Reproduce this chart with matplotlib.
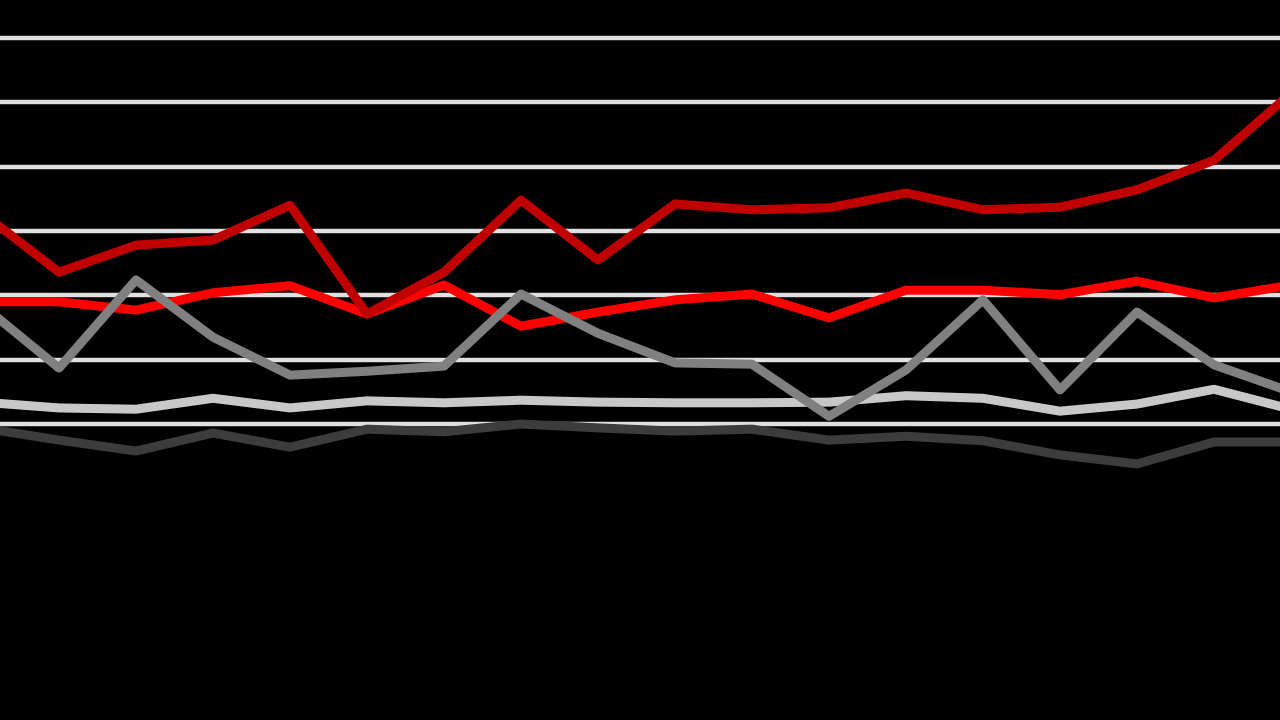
import matplotlib
matplotlib.use("Agg")
import matplotlib.pyplot as plt
import numpy as np

# 18 periods, first and last sit just outside the visible area
periods = np.arange(18)

dark_red = [32.8, 23.6, 27.8, 28.6, 34.0, 17.1, 23.6, 34.8, 25.5, 34.2,
            33.3, 33.6, 35.9, 33.3, 33.7, 36.4, 41.0, 51.4]
red = [19.0, 19.0, 17.7, 20.4, 21.5, 17.1, 21.6, 15.2, 17.4, 19.3,
       20.2, 16.5, 20.8, 20.8, 20.1, 22.2, 19.6, 21.6]
gray = [18.5, 8.7, 22.4, 13.5, 7.6, 8.2, 9.0, 20.2, 14.1, 9.5,
        9.3, 1.2, 8.4, 19.3, 5.3, 17.4, 9.2, 5.0]
light_gray = [3.4, 2.5, 2.3, 4.0, 2.5, 3.6, 3.3, 3.7, 3.4, 3.3,
              3.3, 3.4, 4.4, 4.0, 2.0, 3.1, 5.4, 2.3]
dark_gray = [-0.6, -2.5, -4.2, -1.4, -3.6, -0.8, -1.2, 0.0, -0.6, -1.1,
             -0.8, -2.5, -1.9, -2.6, -4.8, -6.2, -2.8, -2.8]

grid_vals = [0, 10, 20, 30, 40, 50, 60]

fig = plt.figure(figsize=(12.8, 7.2), dpi=100, facecolor="black")
ax = fig.add_axes([0, 0, 1, 1])
ax.set_facecolor("black")

for g in grid_vals:
    ax.axhline(g, color="#e0e0e0", lw=3.2, zorder=1)

lw = 6.5
ax.plot(periods, light_gray, color="#c8c8c8", lw=lw, zorder=2)
ax.plot(periods, dark_gray, color="#3c3c3c", lw=lw, zorder=2)
ax.plot(periods, red, color="#ff0000", lw=lw, zorder=3)
ax.plot(periods, gray, color="#808080", lw=lw, zorder=4)
ax.plot(periods, dark_red, color="#c00000", lw=lw, zorder=5)

ax.set_xlim(18 / 77, 1298 / 77)
ax.set_ylim(-46.0, 65.9)
ax.axis("off")

fig.savefig("out.png", dpi=100, facecolor="black")
